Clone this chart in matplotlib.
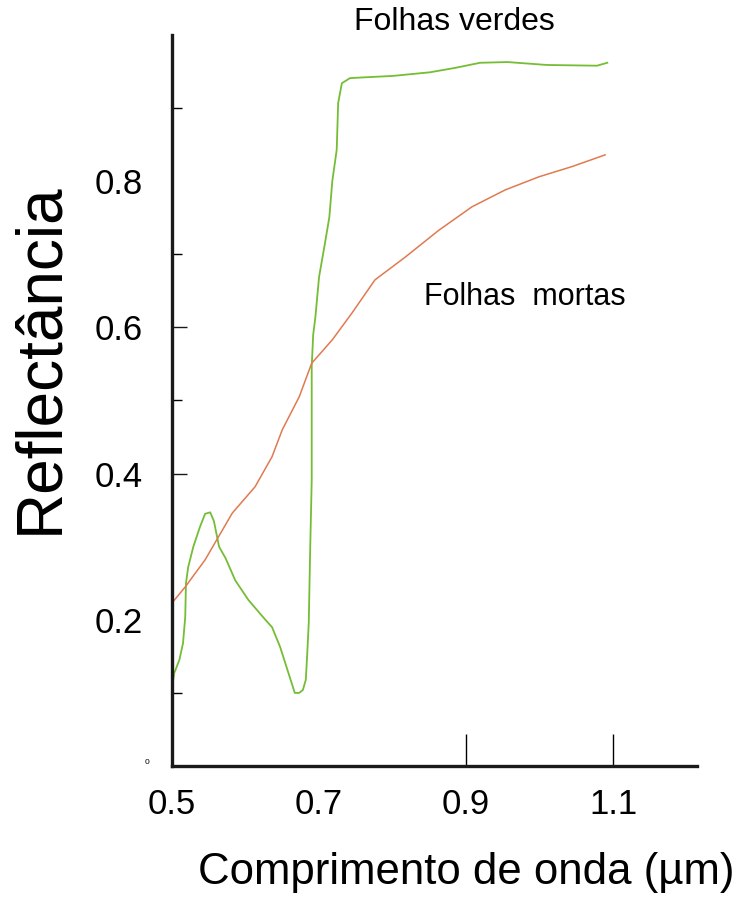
import matplotlib
matplotlib.use("Agg")
import matplotlib.pyplot as plt

plt.rcParams['font.family'] = ['Liberation Sans', 'DejaVu Sans']

# green leaves
verdes_x = [0.500, 0.503, 0.510, 0.515, 0.518, 0.519, 0.522, 0.529, 0.538, 0.545,
            0.552, 0.557, 0.564, 0.573, 0.586, 0.604, 0.627, 0.636, 0.647, 0.660,
            0.667, 0.673, 0.678, 0.682, 0.684, 0.686, 0.688, 0.690, 0.690, 0.692,
            0.695, 0.700, 0.708, 0.714, 0.718, 0.724, 0.726, 0.731, 0.742, 0.760,
            0.800, 0.851, 0.885, 0.919, 0.956, 1.010, 1.078, 1.092]
verdes_y = [0.107, 0.127, 0.145, 0.168, 0.204, 0.250, 0.272, 0.300, 0.327, 0.345,
            0.347, 0.335, 0.300, 0.284, 0.254, 0.227, 0.200, 0.190, 0.163, 0.122,
            0.100, 0.100, 0.104, 0.118, 0.155, 0.196, 0.300, 0.390, 0.546, 0.590,
            0.614, 0.669, 0.715, 0.751, 0.800, 0.843, 0.907, 0.934, 0.941, 0.942,
            0.944, 0.949, 0.955, 0.962, 0.963, 0.959, 0.958, 0.962]

# dead leaves
mortas_x = [0.500, 0.518, 0.545, 0.582, 0.613, 0.636, 0.650, 0.673, 0.690, 0.718,
            0.745, 0.776, 0.817, 0.863, 0.908, 0.953, 0.999, 1.044, 1.089]
mortas_y = [0.223, 0.245, 0.282, 0.346, 0.382, 0.423, 0.460, 0.505, 0.551, 0.583,
            0.620, 0.665, 0.696, 0.733, 0.765, 0.788, 0.806, 0.820, 0.836]

xticks = [0.5, 0.7, 0.9, 1.1]
xmarks = [0.9, 1.1]
yticks = [0.2, 0.4, 0.6, 0.8]
ymarks_short = [0.1, 0.5, 0.7, 0.9]
ymarks_long = [0.4, 0.6]

pos = [172/742, 131/897, 525/742, 731/897]
fig = plt.figure(figsize=(7.42, 8.97), dpi=100)
ax = fig.add_axes(pos)

ax.plot(verdes_x, verdes_y, color='#74bd35', lw=1.3)
ax.plot(mortas_x, mortas_y, color='#e07a50', lw=1.1)

ax.set_xlim(0.5, 1.214)
ax.set_ylim(0, 1.0)

for s in ['top', 'right']:
    ax.spines[s].set_visible(False)
for s in ['left', 'bottom']:
    ax.spines[s].set_linewidth(2.4)
    ax.spines[s].set_color('#1a1a1a')

# labels only on the main axes
ax.set_xticks(xticks)
ax.tick_params(axis='x', which='major', length=0, pad=16, labelsize=25)
ax.set_yticks(yticks)
ax.tick_params(axis='y', which='major', length=0, pad=21, labelsize=25)

# tick marks as minor ticks (short ones)
ax.xaxis.remove_overlapping_locs = False
ax.yaxis.remove_overlapping_locs = False
ax.set_xticks(xmarks, minor=True)
ax.set_yticks(ymarks_short, minor=True)
ax.tick_params(axis='x', which='minor', direction='in', length=23, width=1.0)
ax.tick_params(axis='y', which='minor', direction='in', length=7, width=1.0)

# longer marks at 0.4 and 0.6 on a transparent overlay
tk = fig.add_axes(pos, frameon=False)
tk.set_xlim(ax.get_xlim())
tk.set_ylim(ax.get_ylim())
tk.set_xticks([])
tk.set_yticks([])
tk.yaxis.remove_overlapping_locs = False
tk.set_yticks(ymarks_long, minor=True)
tk.tick_params(axis='y', which='minor', direction='in', length=11, width=1.0,
               color='#1a1a1a')

ax.text(-0.048, 0.0, '0', transform=ax.transAxes, fontsize=6, ha='center', va='bottom')

ax.text(0.884, 1.018, 'Folhas verdes', fontsize=23, ha='center', va='center')
ax.text(0.98, 0.642, 'Folhas  mortas', fontsize=22, ha='center', va='center')

fig.text(40/742, 1 - 358/897, 'Reflectância', fontsize=46, rotation=90,
         ha='center', va='center')
fig.text(466/742, 1 - 872/897, 'Comprimento de onda (µm)', fontsize=31.5,
         ha='center', va='center')

fig.savefig('out.png', dpi=100)
